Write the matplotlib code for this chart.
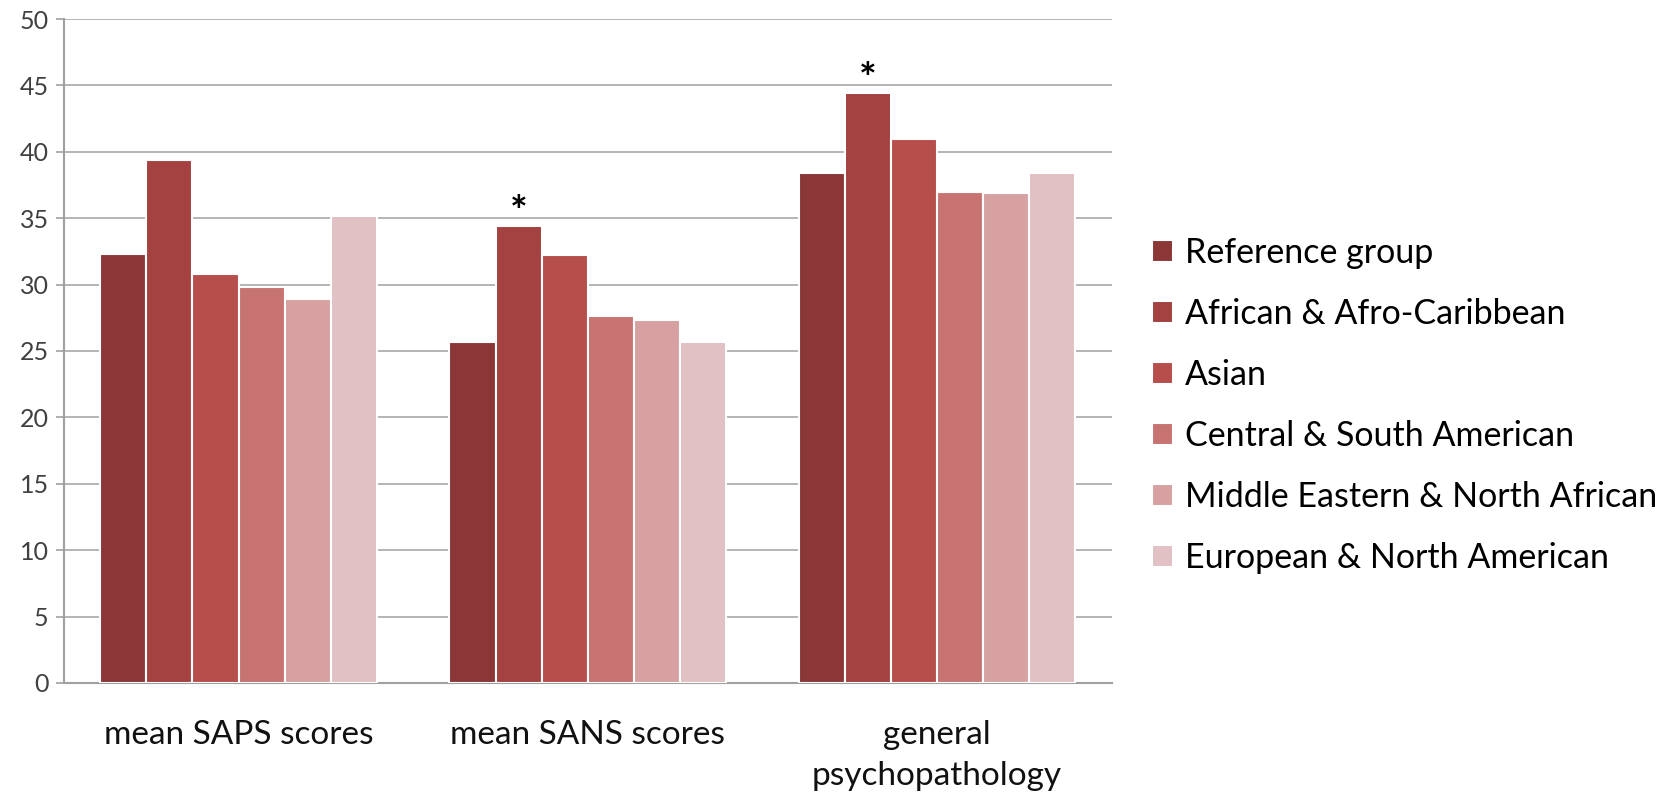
import matplotlib
matplotlib.use("Agg")
import matplotlib.pyplot as plt
import numpy as np

plt.rcParams['font.family'] = ['Lato', 'DejaVu Sans']

categories = ["mean SAPS scores", "mean SANS scores", "general\npsychopathology"]
groups = ["Reference group", "African & Afro-Caribbean", "Asian",
          "Central & South American", "Middle Eastern & North African",
          "European & North American"]
reference_group = [32.3, 25.7, 38.4]
african = [39.4, 34.4, 44.4]
asian = [30.8, 32.2, 41.0]
central_south_american = [29.8, 27.6, 37.0]
middle_eastern = [28.9, 27.3, 36.9]
european = [35.2, 25.7, 38.4]
series = [reference_group, african, asian, central_south_american, middle_eastern, european]
colors = ["#8B3737", "#A34240", "#B64E4B", "#C77372", "#D7A1A1", "#E1C1C3"]
significant = [(1, 1), (2, 1)]  # (category index, series index)
yticks = list(range(0, 51, 5))

fig = plt.figure(figsize=(16.74, 7.95), dpi=100)
ax = fig.add_axes([0.0382, 0.1409, 0.6258, 0.8352])

x = np.arange(len(categories))
n = len(series)
width = 0.132
for i, (vals, col) in enumerate(zip(series, colors)):
    pos = x + (i - (n - 1) / 2) * width
    ax.bar(pos, vals, width=width, color=col, edgecolor="white", linewidth=1.5,
           label=groups[i], zorder=3)

for ci, si in significant:
    pos = x[ci] + (si - (n - 1) / 2) * width
    ax.text(pos, series[si][ci] - 0.5, "*", ha="center", va="bottom",
            fontsize=30, color="black", fontweight="bold")

ax.set_xlim(-0.5, len(categories) - 0.5)
ax.set_ylim(0, 50)
ax.set_yticks(yticks)
ax.set_yticklabels([str(t) for t in yticks], fontsize=18, color="#404040")
ax.set_xticks(x)
ax.set_xticklabels(categories, fontsize=24, color="#111111", linespacing=1.45)
ax.tick_params(axis="x", length=0, pad=27)
ax.tick_params(axis="y", length=6, color="#A0A0A0", width=1.2, pad=5)
ax.grid(axis="y", color="#A8A8A8", linewidth=1.2, zorder=0)
for s in ["top", "right"]:
    ax.spines[s].set_visible(False)
ax.spines["left"].set_color("#A0A0A0")
ax.spines["left"].set_linewidth(1.5)
ax.spines["bottom"].set_color("#A0A0A0")
ax.spines["bottom"].set_linewidth(1.5)

leg = fig.legend(loc="center left", bbox_to_anchor=(0.670, 0.49), frameon=False,
                 fontsize=24.5, handlelength=0.6, handleheight=0.6,
                 handletextpad=0.35, labelspacing=0.85)

fig.savefig("out.png", dpi=100)
